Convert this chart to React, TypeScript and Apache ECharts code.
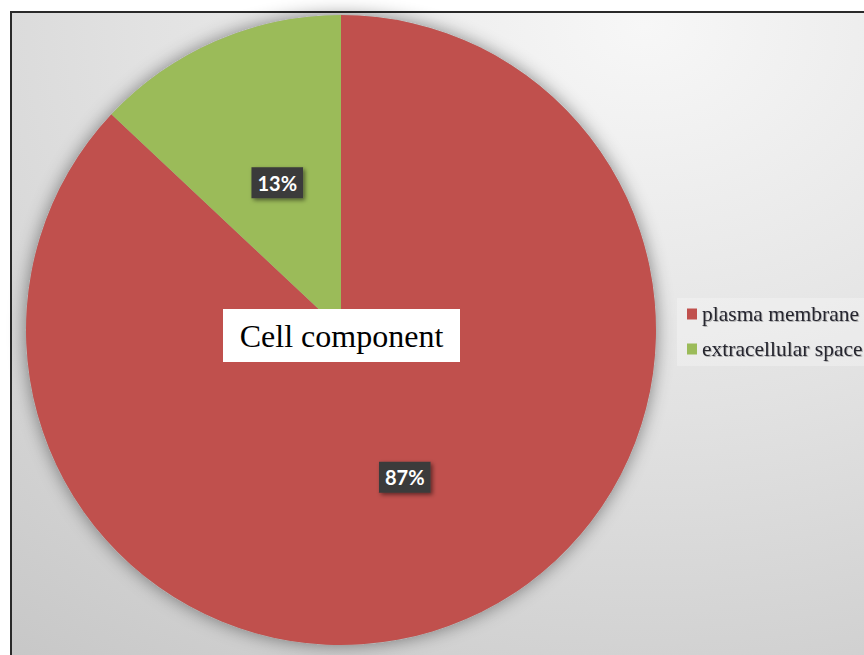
import React, { useEffect, useRef } from "react";
import * as echarts from "echarts";

const categories = ["plasma membrane", "extracellular space"];
const values = [87, 13];
const colors = ["#C0504D", "#9BBB59"];
const chartTitle = "Cell component";

export default function App() {
  const ref = useRef<HTMLDivElement>(null);
  useEffect(() => {
    if (!ref.current) return;
    const chart = echarts.init(ref.current, undefined, { renderer: "svg" });
    const data = categories.map((name, i) => ({
      name,
      value: values[i],
      itemStyle: { color: colors[i] },
    }));
    chart.setOption({
      animation: false,
      backgroundColor: "#ffffff",
      graphic: [
        {
          type: "rect",
          z: -10,
          silent: true,
          shape: { x: 11, y: 12, width: 880, height: 680 },
          style: {
            fill: {
              type: "radial",
              x: 0.72,
              y: 0.02,
              r: 1.25,
              colorStops: [
                { offset: 0, color: "#f7f7f7" },
                { offset: 0.45, color: "#e2e2e2" },
                { offset: 1, color: "#c4c4c4" },
              ],
            },
            stroke: "#2a2a2a",
            lineWidth: 2,
          },
        },
        {
          type: "rect",
          z: 100,
          silent: true,
          shape: { x: 223, y: 309, width: 237, height: 53 },
          style: { fill: "#ffffff" },
        },
        {
          type: "text",
          z: 101,
          silent: true,
          x: 341.5,
          y: 336,
          style: {
            text: chartTitle,
            fill: "#000000",
            font: '32px "Liberation Serif", "Times New Roman", serif',
            align: "center",
            verticalAlign: "middle",
          },
        },
      ],
      legend: {
        orient: "vertical",
        left: 677,
        top: 298,
        padding: [5, 12, 6, 10],
        backgroundColor: "rgba(255,255,255,0.28)",
        itemWidth: 10,
        itemHeight: 11,
        itemGap: 13,
        data: categories,
        icon: "rect",
        selectedMode: false,
        textStyle: {
          fontFamily: '"Liberation Serif", "Times New Roman", serif',
          fontSize: 21.5,
          lineHeight: 22,
          color: "#25252f",
          textShadowColor: "rgba(0,0,0,0.25)",
          textShadowBlur: 1,
          textShadowOffsetX: 1,
          textShadowOffsetY: 1,
        },
      },
      series: [
        {
          type: "pie",
          silent: true,
          center: [341, 330],
          radius: 315,
          label: { show: false },
          labelLine: { show: false },
          itemStyle: {
            color: "#b0b0b0",
            shadowBlur: 18,
            shadowColor: "rgba(0,0,0,0.45)",
          },
          data: [{ name: "__shadow", value: 1 }],
          z: 1,
        },
        {
          type: "pie",
          center: [341, 330],
          radius: 315,
          startAngle: 90,
          clockwise: true,
          z: 2,
          label: {
            show: true,
            position: "inside",
            formatter: "{d}%",
            color: "#ffffff",
            fontFamily: "Lato, Calibri, sans-serif",
            fontWeight: "bold",
            fontSize: 20,
            lineHeight: 20,
            backgroundColor: "#3a3a3a",
            padding: [6, 6, 5, 6],
            shadowBlur: 4,
            shadowOffsetX: 2,
            shadowOffsetY: 2,
            shadowColor: "rgba(0,0,0,0.5)",
          },
          labelLine: { show: false },
          itemStyle: { borderWidth: 0 },
          emphasis: { disabled: true },
          data,
        },
      ],
    });
    return () => chart.dispose();
  }, []);
  return (
    <div
      ref={ref}
      style={{ position: "absolute", left: 0, top: 0, width: 864, height: 655 }}
    />
  );
}
